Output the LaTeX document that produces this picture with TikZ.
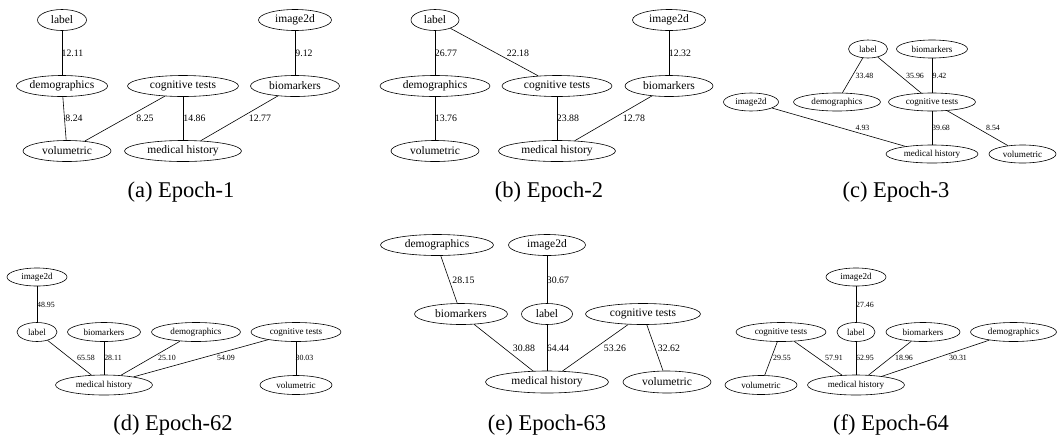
\documentclass[tikz,border=0pt]{standalone}
\usepackage{fontspec}
\setmainfont{Liberation Serif}
\newfontfamily\timesfam{Liberation Serif}
\usetikzlibrary{shapes.geometric}
\tikzset{
  featL/.style 2 args={draw, ellipse, line width=0.6pt, inner sep=0pt, minimum width=#1pt, minimum height=#2pt, font=\timesfam\fontsize{11.5}{13}\selectfont},
  featS/.style 2 args={draw, ellipse, line width=0.6pt, inner sep=0pt, minimum width=#1pt, minimum height=#2pt, font=\timesfam\fontsize{9.1}{11}\selectfont},
  wtL/.style={inner sep=0pt, font=\timesfam\fontsize{9.8}{11}\selectfont},
  wtS/.style={inner sep=0pt, font=\timesfam\fontsize{7.9}{9}\selectfont},
  link/.style={line width=0.6pt},
  subcap/.style={inner sep=0pt, font=\timesfam\fontsize{22.5}{26}\selectfont}
}

\begin{document}
\begin{tikzpicture}[x=1pt, y=-1pt]
  \useasboundingbox (0,0) rectangle (1057,440);

  % (a) Epoch-1
  \node[featL={49}{21}] (labA) at (62,20) {label};
  \node[featL={73}{21}] (imgA) at (295,20) {image2d};
  \node[featL={91}{21}] (demA) at (62,86) {demographics};
  \node[featL={111}{21}] (cogA) at (183,86) {cognitive tests};
  \node[featL={89}{21}] (bioA) at (295,86) {biomarkers};
  \node[featL={88}{21}] (volA) at (67,151) {volumetric};
  \node[featL={117}{21}] (medA) at (183,151) {medical history};
  \draw[link] (labA) -- (demA);
  \draw[link] (imgA) -- (bioA);
  \draw[link] (demA) -- (volA);
  \draw[link] (cogA) -- (volA);
  \draw[link] (cogA) -- (medA);
  \draw[link] (bioA) -- (medA);
  \node[wtL] (wA1) at (72.5,53) {12.11};
  \node[wtL] (wA2) at (304,53) {9.12};
  \node[wtL] (wA3) at (74,118) {8.24};
  \node[wtL] (wA4) at (145,118) {8.25};
  \node[wtL] (wA5) at (194.5,118) {14.86};
  \node[wtL] (wA6) at (260,118) {12.77};
  \node[subcap] (capA) at (181,192) {(a) Epoch-1};

  % (b) Epoch-2
  \node[featL={48}{21}] (labB) at (435,20) {label};
  \node[featL={73}{21}] (imgB) at (669,20) {image2d};
  \node[featL={110}{21}] (demB) at (435,86) {demographics};
  \node[featL={110}{21}] (cogB) at (557,86) {cognitive tests};
  \node[featL={88}{21}] (bioB) at (669,86) {biomarkers};
  \node[featL={88}{21}] (volB) at (435,151) {volumetric};
  \node[featL={117}{21}] (medB) at (557,151) {medical history};
  \draw[link] (labB) -- (demB);
  \draw[link] (labB) -- (cogB);
  \draw[link] (imgB) -- (bioB);
  \draw[link] (demB) -- (volB);
  \draw[link] (cogB) -- (medB);
  \draw[link] (bioB) -- (medB);
  \node[wtL] (wB1) at (446,53) {26.77};
  \node[wtL] (wB2) at (518,53) {22.18};
  \node[wtL] (wB3) at (680,53) {12.32};
  \node[wtL] (wB4) at (446,118) {13.76};
  \node[wtL] (wB5) at (568,118) {23.88};
  \node[wtL] (wB6) at (634,118) {12.78};
  \node[subcap] (capB) at (549,192) {(b) Epoch-2};

  % (c) Epoch-3
  \node[featS={39}{18}] (labC) at (868,49) {label};
  \node[featS={71}{18}] (bioC) at (932,49) {biomarkers};
  \node[featS={55}{18}] (imgC) at (751,102) {image2d};
  \node[featS={87}{18}] (demC) at (837,102) {demographics};
  \node[featS={87}{18}] (cogC) at (932,102) {cognitive tests};
  \node[featS={92}{18}] (medC) at (932,154) {medical history};
  \node[featS={67}{18}] (volC) at (1022.5,154) {volumetric};
  \draw[link] (labC) -- (demC);
  \draw[link] (labC) -- (cogC);
  \draw[link] (bioC) -- (cogC);
  \draw[link] (imgC) -- (medC);
  \draw[link] (cogC) -- (medC);
  \draw[link] (cogC) -- (volC);
  \node[wtS] (wC1) at (864.5,76) {33.48};
  \node[wtS] (wC2) at (915,76) {35.96};
  \node[wtS] (wC3) at (939.5,76) {9.42};
  \node[wtS] (wC4) at (862.5,128) {4.93};
  \node[wtS] (wC5) at (941,128) {39.68};
  \node[wtS] (wC6) at (993,128) {8.54};
  \node[subcap] (capC) at (896,192) {(c) Epoch-3};

  % (d) Epoch-62
  \node[featS={60}{18}] (imgD) at (37,277) {image2d};
  \node[featS={40}{19}] (labD) at (37,332) {label};
  \node[featS={73}{19}] (bioD) at (104,332) {biomarkers};
  \node[featS={89}{19}] (demD) at (196,332) {demographics};
  \node[featS={90}{19}] (cogD) at (296,332) {cognitive tests};
  \node[featS={97}{20}] (medD) at (104,385) {medical history};
  \node[featS={72}{19}] (volD) at (296,385) {volumetric};
  \draw[link] (imgD) -- (labD);
  \draw[link] (labD) -- (medD);
  \draw[link] (bioD) -- (medD);
  \draw[link] (demD) -- (medD);
  \draw[link] (cogD) -- (medD);
  \draw[link] (cogD) -- (volD);
  \node[wtS] (wD1) at (46,305) {48.95};
  \node[wtS] (wD2) at (86,358) {65.58};
  \node[wtS] (wD3) at (113,358) {28.11};
  \node[wtS] (wD4) at (167,358) {25.10};
  \node[wtS] (wD5) at (226,358) {54.09};
  \node[wtS] (wD6) at (304.5,358) {30.03};
  \node[subcap] (capD) at (173,425) {(d) Epoch-62};

  % (e) Epoch-63
  \node[featL={113}{21}] (demE) at (437,245) {demographics};
  \node[featL={77}{21}] (imgE) at (547,245) {image2d};
  \node[featL={93}{21}] (bioE) at (461,314) {biomarkers};
  \node[featL={51}{21}] (labE) at (547,314) {label};
  \node[featL={115}{21}] (cogE) at (643,314) {cognitive tests};
  \node[featL={123}{22}] (medE) at (547,382) {medical history};
  \node[featL={88}{22}] (volE) at (667,382) {volumetric};
  \draw[link] (demE) -- (bioE);
  \draw[link] (imgE) -- (labE);
  \draw[link] (bioE) -- (medE);
  \draw[link] (labE) -- (medE);
  \draw[link] (cogE) -- (medE);
  \draw[link] (cogE) -- (volE);
  \node[wtL] (wE1) at (463.5,280) {28.15};
  \node[wtL] (wE2) at (558,280) {30.67};
  \node[wtL] (wE3) at (524,348) {30.88};
  \node[wtL] (wE4) at (558,348) {64.44};
  \node[wtL] (wE5) at (615,348) {53.26};
  \node[wtL] (wE6) at (669,348) {32.62};
  \node[subcap] (capE) at (547,425) {(e) Epoch-63};

  % (f) Epoch-64
  \node[featS={60}{18}] (imgF) at (856,277) {image2d};
  \node[featS={90}{19}] (cogF) at (781,332) {cognitive tests};
  \node[featS={38}{19}] (labF) at (856,332) {label};
  \node[featS={74}{19}] (bioF) at (923,332) {biomarkers};
  \node[featS={86}{19}] (demF) at (1013.5,332) {demographics};
  \node[featS={72}{19}] (volF) at (761,385) {volumetric};
  \node[featS={97}{20}] (medF) at (856,385) {medical history};
  \draw[link] (imgF) -- (labF);
  \draw[link] (cogF) -- (volF);
  \draw[link] (cogF) -- (medF);
  \draw[link] (labF) -- (medF);
  \draw[link] (bioF) -- (medF);
  \draw[link] (demF) -- (medF);
  \node[wtS] (wF1) at (865,305) {27.46};
  \node[wtS] (wF2) at (782,358) {29.55};
  \node[wtS] (wF3) at (834,358) {57.91};
  \node[wtS] (wF4) at (865,358) {62.95};
  \node[wtS] (wF5) at (904,358) {18.96};
  \node[wtS] (wF6) at (958,358) {30.31};
  \node[subcap] (capF) at (891,425) {(f) Epoch-64};
\end{tikzpicture}
\end{document}
